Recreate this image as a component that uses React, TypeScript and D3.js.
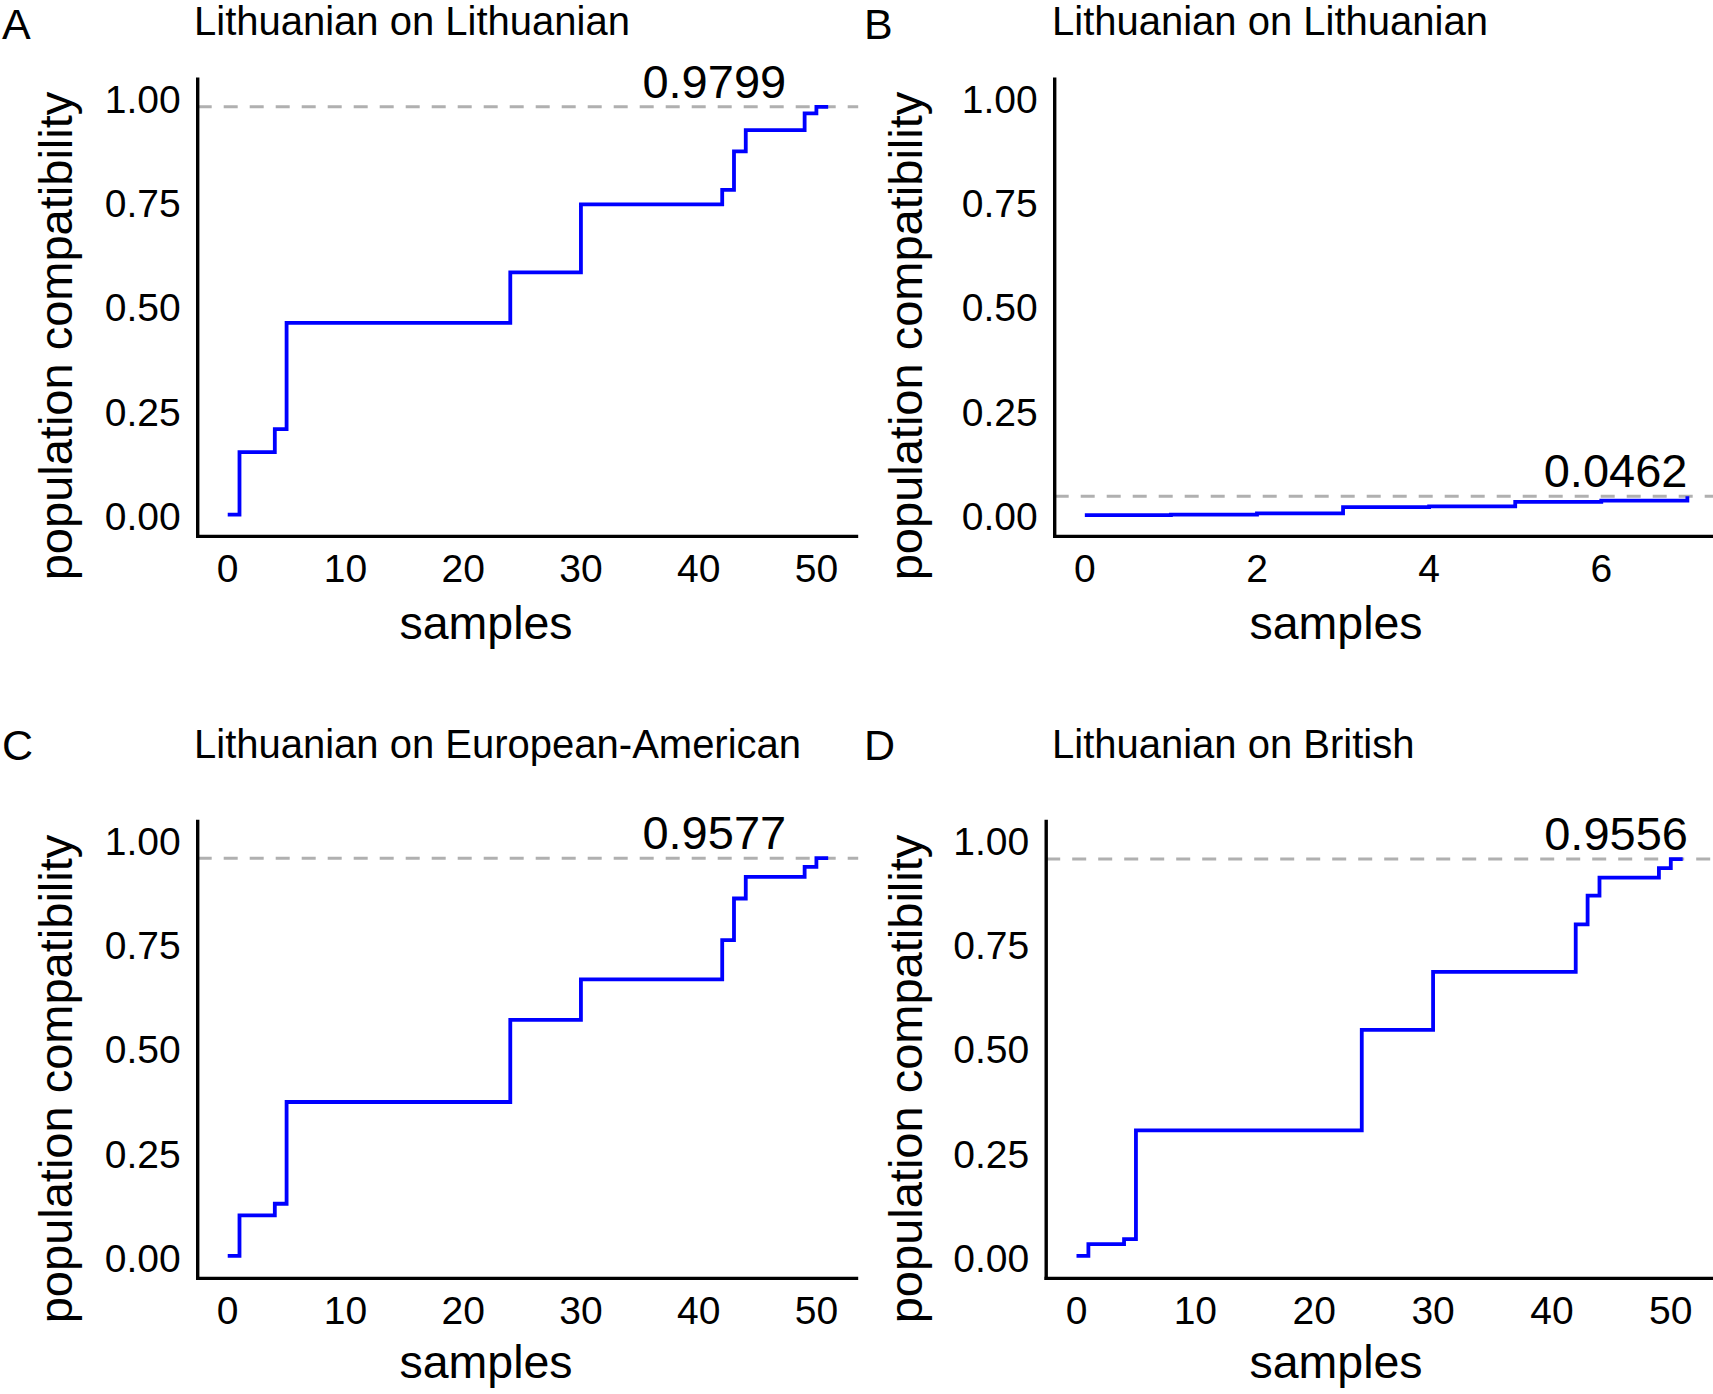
import React from "react";
import * as d3 from "d3";

// ---------- data ----------
const panelLetters = ["A", "B", "C", "D"];
const panelTitles = [
  "Lithuanian on Lithuanian",
  "Lithuanian on Lithuanian",
  "Lithuanian on European-American",
  "Lithuanian on British",
];
const finalLabels = ["0.9799", "0.0462", "0.9577", "0.9556"];
const finalValues = [0.9799, 0.0462, 0.9577, 0.9556];

const samplesA = [0, 1, 4, 5, 24, 30, 42, 43, 44, 49, 50, 51];
const compatA = [0.002, 0.152, 0.207, 0.462, 0.583, 0.746, 0.781, 0.873, 0.924, 0.964, 0.9799, 0.9799];

const samplesB = [0, 1, 2, 3, 4, 5, 6, 7];
const compatB = [0.001, 0.002, 0.005, 0.02, 0.022, 0.033, 0.036, 0.0462];

const samplesC = [0, 1, 4, 5, 24, 30, 42, 43, 44, 49, 50, 51];
const compatC = [0.004, 0.101, 0.129, 0.373, 0.57, 0.667, 0.761, 0.861, 0.913, 0.937, 0.9577, 0.9577];

const samplesD = [0, 1, 4, 5, 24, 30, 42, 43, 44, 49, 50, 51];
const compatD = [0.004, 0.032, 0.044, 0.305, 0.546, 0.685, 0.799, 0.868, 0.911, 0.934, 0.9556, 0.9556];

const xTicksLong = [0, 10, 20, 30, 40, 50];
const xTicksShort = [0, 2, 4, 6];
const yTicks = [0, 0.25, 0.5, 0.75, 1.0];
const yLabel = "population compatibility";
const xLabel = "samples";

// ---------- layout ----------
const W = 1713;
const H = 1394;
const FONT = "'Liberation Sans', Arial, Helvetica, sans-serif";

type Layout = {
  left: number;
  right: number;
  top: number;
  bottom: number;
  letterX: number;
  titleX: number;
  titleY: number;
  yLabelX: number;
  yLabelY: number;
  xLabelX: number;
  xLabelY: number;
  annRightGap: number;
};

const layouts: Layout[] = [
  { left: 197.7, right: 858.2, top: 77.6, bottom: 536.4, letterX: 2, titleX: 194, titleY: 35, yLabelX: 72, yLabelY: 336, xLabelX: 486, xLabelY: 639, annRightGap: 72 },
  { left: 1054.7, right: 1717.5, top: 77.6, bottom: 536.4, letterX: 864, titleX: 1052, titleY: 35, yLabelX: 922, yLabelY: 336, xLabelX: 1336, xLabelY: 639, annRightGap: 30 },
  { left: 197.7, right: 858.2, top: 819.7, bottom: 1278.4, letterX: 2, titleX: 194, titleY: 757.5, yLabelX: 72, yLabelY: 1079, xLabelX: 486, xLabelY: 1378, annRightGap: 72 },
  { left: 1046.2, right: 1713, top: 819.7, bottom: 1278.4, letterX: 864, titleX: 1052, titleY: 757.5, yLabelX: 922, yLabelY: 1079, xLabelX: 1336, xLabelY: 1378, annRightGap: 25 },
];

const seriesX = [samplesA, samplesB, samplesC, samplesD];
const seriesY = [compatA, compatB, compatC, compatD];
const tickSets = [xTicksLong, xTicksShort, xTicksLong, xTicksLong];

function expand(lo: number, hi: number, f = 0.05): [number, number] {
  const s = hi - lo;
  return [lo - s * f, hi + s * f];
}

function Panel({ i }: { i: number }) {
  const L = layouts[i];
  const xs = seriesX[i];
  const ys = seriesY[i];
  const xExt = d3.extent(xs) as [number, number];
  const x = d3.scaleLinear().domain(expand(xExt[0], xExt[1])).range([L.left, L.right]);
  const y = d3.scaleLinear().domain(expand(0, 1)).range([L.bottom, L.top]);
  const pts = xs.map((v, k) => [v, ys[k]] as [number, number]);
  const path = d3
    .line<[number, number]>()
    .x((d) => x(d[0]))
    .y((d) => y(d[1]))
    .curve(d3.curveStepAfter)(pts) as string;
  const fy = y(finalValues[i]);
  const letterBaseline = i < 2 ? 39 : L.titleY + 2;

  return (
    <g>
      <text x={L.letterX} y={letterBaseline} fontSize={43} fontFamily={FONT} fill="#000">
        {panelLetters[i]}
      </text>
      <text x={L.titleX} y={L.titleY} fontSize={40} fontFamily={FONT} fill="#000">
        {panelTitles[i]}
      </text>
      {/* dashed reference line */}
      <line x1={L.left} x2={L.right} y1={fy} y2={fy} stroke="#b0b0b0" strokeWidth={3} strokeDasharray="14 12" />
      {/* step line */}
      <path d={path} fill="none" stroke="#0000ff" strokeWidth={3.8} />
      {/* annotation */}
      <text x={L.right - L.annRightGap} y={fy - 9} fontSize={47} fontFamily={FONT} textAnchor="end" fill="#000">
        {finalLabels[i]}
      </text>
      {/* axes */}
      <line x1={L.left} x2={L.left} y1={L.top} y2={L.bottom + 1.7} stroke="#000" strokeWidth={3.4} />
      <line x1={L.left - 1.7} x2={L.right} y1={L.bottom} y2={L.bottom} stroke="#000" strokeWidth={3.4} />
      {yTicks.map((t) => (
        <text key={"y" + t} x={L.left - 17} y={y(t)} dy="0.37em" fontSize={39} fontFamily={FONT} textAnchor="end" fill="#000">
          {d3.format(".2f")(t)}
        </text>
      ))}
      {tickSets[i].map((t) => (
        <text key={"x" + t} x={x(t)} y={L.bottom + 46} fontSize={39} fontFamily={FONT} textAnchor="middle" fill="#000">
          {String(t)}
        </text>
      ))}
      <text x={L.xLabelX} y={L.xLabelY} fontSize={46.5} fontFamily={FONT} textAnchor="middle" fill="#000">
        {xLabel}
      </text>
      <text
        transform={`translate(${L.yLabelX},${L.yLabelY}) rotate(-90)`}
        fontSize={47}
        fontFamily={FONT}
        textAnchor="middle"
        fill="#000"
      >
        {yLabel}
      </text>
    </g>
  );
}

export default function App() {
  return (
    <svg
      width={W}
      height={H}
      viewBox={`0 0 ${W} ${H}`}
      style={{ position: "absolute", left: 0, top: 0, background: "#fff" }}
    >
      <rect x={0} y={0} width={W} height={H} fill="#fff" />
      {[0, 1, 2, 3].map((i) => (
        <Panel key={i} i={i} />
      ))}
    </svg>
  );
}
